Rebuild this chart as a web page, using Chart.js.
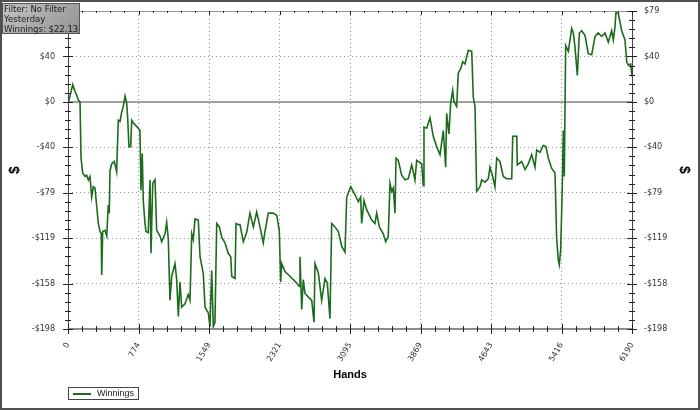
<!DOCTYPE html>
<html>
<head>
<meta charset="utf-8">
<script src="https://cdn.jsdelivr.net/npm/chart.js@4.4.1/dist/chart.umd.min.js"></script>
<style>
  html, body { margin: 0; padding: 0; background: #fff; }
  #wrap { position: relative; width: 700px; height: 410px; }
  #info {
    position: absolute; left: 2px; top: 3px; width: 75px; height: 29px;
    border: 1px solid #555; background: linear-gradient(135deg, #c4c4c4, #939393);
    font: 8.5px "DejaVu Sans"; line-height: 10px; color: #1a1a1a; padding-left: 1px;
  }
  #legend {
    position: absolute; left: 68px; top: 387px; width: 69px; height: 11px;
    border: 1px solid #444; font: 9px "Liberation Sans"; line-height: 11px; color: #222;
  }
  #legend .swatch { position: absolute; left: 4px; top: 5px; width: 18px; height: 2px; }
  #legend .txt { position: absolute; left: 28px; top: 0; }
</style>
</head>
<body>
<div id="wrap">
  <canvas id="myChart" width="700" height="410"></canvas>
  <div id="info">Filter: No Filter<br>Yesterday<br>Winnings: $22.13</div>
  <div id="legend"><span class="swatch"></span><span class="txt"></span></div>
</div>
<script>
// Dados
const hands = [0, 52, 77, 95, 113, 132, 143, 161, 187, 205, 223, 241, 260, 278, 296, 315, 333, 351, 365, 370, 381, 406, 425, 442, 453, 461, 480, 508, 534, 552, 571, 589, 607, 626, 644, 655, 669, 688, 699, 724, 761, 790, 801, 815, 826, 845, 856, 881, 900, 911, 930, 955, 973, 1010, 1028, 1065, 1083, 1101, 1119, 1138, 1174, 1193, 1211, 1229, 1248, 1284, 1320, 1339, 1358, 1375, 1394, 1430, 1449, 1485, 1504, 1540, 1558, 1577, 1595, 1613, 1632, 1661, 1687, 1723, 1759, 1786, 1797, 1833, 1844, 1869,
  1888, 1924, 1961, 1997, 2034, 2071, 2107, 2143, 2162, 2198, 2253, 2291, 2319, 2334, 2345, 2382, 2436, 2510, 2538, 2546, 2565, 2582, 2601, 2637, 2675, 2700, 2711, 2747, 2784, 2821, 2846, 2875, 2894, 2930, 2967, 3004, 3040, 3059, 3103, 3150, 3186, 3212, 3223, 3249, 3278, 3333, 3369, 3388, 3417, 3460, 3487, 3515, 3534, 3553, 3570, 3589, 3600, 3625, 3662, 3699, 3735, 3772, 3790, 3808, 3827, 3882, 3899, 3907, 3937, 3973, 4009, 4046, 4083, 4119, 4145, 4156, 4181, 4200, 4222, 4236, 4266, 4283, 4310, 4332, 4357, 4393, 4431, 4448, 4467, 4485, 4522, 4540, 4577, 4613, 4631, 4661, 4686, 4705, 4741, 4777, 4815, 4870, 4881, 4925, 4931, 4979, 5016, 5052, 5089, 5125, 5144, 5180, 5216, 5246, 5271, 5309, 5345, 5363, 5381, 5392, 5407, 5425, 5436, 5447, 5462, 5491, 5528, 5546, 5564, 5590, 5612, 5638, 5674, 5710, 5748, 5784, 5820, 5857, 5894, 5930, 5967, 5985, 6003, 6014, 6040, 6077, 6113, 6132, 6149, 6176, 6190];
const winnings = [-2, 15, 9, 6, 1.5, 0, -49, -62, -65, -64, -68, -65, -83, -74, -75, -91, -106, -113, -115, -151, -113, -112, -117, -90, -97, -60, -54, -52, -61, -16, -17, -9, -4, 5, -1, -14, -39, -39, -16, -19, -22, -25, -77, -45, -86, -106, -113, -114, -68, -132, -71, -68, -112, -117, -122, -115, -105, -120, -173, -152, -141, -155, -187, -157, -179, -176, -168, -173, -115, -120, -102, -103, -135, -150, -179, -184, -196, -147, -196, -192, -106, -109, -118, -123, -132, -135, -152, -154, -106, -107,
  -107, -122, -114, -97, -109, -96, -109, -123, -113, -97, -97, -99, -112, -157, -141, -148, -152, -158, -161, -135, -181, -155, -167, -170, -173, -192, -141, -149, -173, -154, -158, -189, -106, -109, -113, -126, -131, -83, -74, -81, -87, -83, -106, -86, -94, -103, -106, -97, -109, -115, -122, -117, -71, -78, -75, -97, -49, -51, -64, -68, -67, -55, -61, -68, -51, -54, -73, -22, -23, -14, -30, -39, -46, -25, -57, -10, -28, -1, 10, 0, -4, 25, 29, 35, 33, 45, 44, 4, -4, -78, -74, -68, -70, -67, -57, -65, -74, -49, -52, -65, -67, -67, -30, -30, -55, -52, -59, -54, -46, -57, -42, -44, -38, -39, -49, -58, -62, -119, -138, -142, -129, -74, -25, -65, 49, 44, 64, 60, 48, 23, 60, 62, 58, 42, 41, 57, 60, 57, 60, 52, 62, 54, 65, 78, 77, 62, 54, 35, 32, 33, 22.13];

const seriesLabel = 'Winnings';
const xTickLabels = ['0', '774', '1549', '2321', '3095', '3869', '4643', '5416', '6190'];
const yTickLabels = ['-$198', '-$158', '-$119', '-$79', '-$40', '$0', '$40', '$79'];
const xMax = 6190;
const yMin = -198;
const yStep = 39.6;

const lineColor = '#1d6b1d';
document.querySelector('#legend .txt').textContent = seriesLabel;
document.querySelector('#legend .swatch').style.background = lineColor;

// ticks maiores e menores (5 divisões)
function xTicks(scale) {
  const t = [];
  for (let i = 0; i <= 40; i++) t.push({ value: xMax * i / 40, big: i % 5 === 0 });
  scale.ticks = t;
}
function yTicks(scale) {
  const t = [];
  for (let i = 0; i <= 35; i++) t.push({ value: yMin + yStep * i / 5, big: i % 5 === 0 });
  scale.ticks = t;
}
const yMax = yMin + yStep * 7;

// largura fixa dos eixos verticais, sem padding extra
function fitY(s) { s.width = 68; s.paddingTop = 0; s.paddingBottom = 0; }

const gridColor = (c) => (c.tick && c.tick.big && Math.abs(c.tick.value) > 1e-6) ? '#9a9a9a' : 'rgba(0,0,0,0)';

const axesPlugin = {
  id: 'axesPlugin',
  beforeDraw(chart) {
    const c = chart.ctx;
    c.save();
    c.fillStyle = '#fff';
    c.fillRect(0, 0, chart.width, chart.height);
    c.restore();
  },
  beforeDatasetsDraw(chart) {
    const c = chart.ctx, a = chart.chartArea, y = chart.scales.y;
    const py = Math.round(y.getPixelForValue(0));
    c.save();
    c.strokeStyle = '#a0a0a0';
    c.lineWidth = 2;
    c.beginPath(); c.moveTo(a.left, py); c.lineTo(a.right, py); c.stroke();
    c.restore();
  },
  afterDatasetsDraw(chart) {
    const c = chart.ctx, a = chart.chartArea;
    const x = chart.scales.x, y = chart.scales.y;
    c.save();
    // linhas dos eixos
    c.strokeStyle = '#8c8c8c'; c.lineWidth = 2;
    c.beginPath(); c.moveTo(a.left, a.bottom); c.lineTo(a.right, a.bottom); c.stroke();
    c.lineWidth = 1; c.strokeStyle = '#999';
    c.beginPath(); c.moveTo(a.left, a.top + 0.5); c.lineTo(a.right, a.top + 0.5); c.stroke();
    c.strokeStyle = '#444';
    c.beginPath(); c.moveTo(a.left + 0.5, a.top); c.lineTo(a.left + 0.5, a.bottom); c.stroke();
    c.beginPath(); c.moveTo(a.right + 0.5, a.top); c.lineTo(a.right + 0.5, a.bottom); c.stroke();
    // marcas
    c.strokeStyle = '#222';
    c.beginPath();
    x.ticks.forEach(t => {
      const px = Math.round(x.getPixelForValue(t.value)) + 0.5;
      const l = t.big ? 5 : 3;
      c.moveTo(px, a.bottom - l); c.lineTo(px, a.bottom + l);
      c.moveTo(px, a.top); c.lineTo(px, a.top + (t.big ? 4 : 2));
    });
    y.ticks.forEach(t => {
      const py = Math.round(y.getPixelForValue(t.value)) + 0.5;
      const l = t.big ? 5 : 3;
      c.moveTo(a.left - l, py); c.lineTo(a.left + l, py);
      c.moveTo(a.right - l, py); c.lineTo(a.right + l, py);
    });
    c.stroke();
    c.restore();
  },
  afterDraw(chart) {
    const c = chart.ctx;
    c.save();
    c.strokeStyle = '#505050'; c.lineWidth = 2;
    c.strokeRect(1, 1, chart.width - 2, chart.height - 2);
    c.restore();
  }
};

const tickFont = { family: 'DejaVu Sans', size: 8 };

const config = {
  type: 'line',
  data: {
    datasets: [{
      label: seriesLabel,
      data: hands.map((h, i) => ({ x: h, y: winnings[i] })),
      borderColor: lineColor,
      borderWidth: 1.6,
      pointRadius: 0,
      tension: 0,
      fill: false
    }]
  },
  options: {
    responsive: false,
    animation: false,
    layout: { padding: { top: 11, left: 0, right: 0, bottom: 0 } },
    plugins: { legend: { display: false }, tooltip: { enabled: false } },
    scales: {
      x: {
        type: 'linear', min: 0, max: xMax,
        afterBuildTicks: xTicks,
        afterFit: (s) => { s.height = 81; },
        grid: { color: gridColor, lineWidth: 1, drawTicks: false },
        border: { display: false, dash: [1, 3] },
        ticks: {
          autoSkip: false, minRotation: 60, maxRotation: 60, padding: 12,
          color: '#333', font: tickFont,
          callback: (v, i, ts) => ts[i].big ? xTickLabels[i / 5] : ''
        },
        title: { display: true, text: 'Hands', color: '#000', font: { family: 'Liberation Sans', size: 11, weight: 'bold' }, padding: { top: 0, bottom: 28 } }
      },
      y: {
        position: 'left', min: yMin, max: yMax,
        afterBuildTicks: yTicks,
        afterFit: fitY,
        grid: { color: gridColor, lineWidth: 1, drawTicks: false },
        border: { display: false, dash: [1, 3] },
        ticks: {
          autoSkip: false, padding: 13, color: '#333', font: tickFont,
          callback: (v, i, ts) => ts[i].big ? yTickLabels[i / 5] : ''
        },
        title: { display: true, text: '$', color: '#000', font: { family: 'Liberation Sans', size: 14, weight: 'bold' }, padding: { top: 7, bottom: 0 } }
      },
      y2: {
        position: 'right', min: yMin, max: yMax,
        afterBuildTicks: yTicks,
        afterFit: fitY,
        grid: { drawOnChartArea: false, drawTicks: false },
        border: { display: false },
        ticks: {
          autoSkip: false, padding: 12, color: '#333', font: tickFont,
          callback: (v, i, ts) => ts[i].big ? yTickLabels[i / 5] : ''
        },
        title: { display: true, text: '$', color: '#000', font: { family: 'Liberation Sans', size: 14, weight: 'bold' }, padding: { top: 8, bottom: 0 } }
      }
    }
  },
  plugins: [axesPlugin]
};

const ctx = document.getElementById('myChart').getContext('2d');
new Chart(ctx, config);
</script>
</body>
</html>
